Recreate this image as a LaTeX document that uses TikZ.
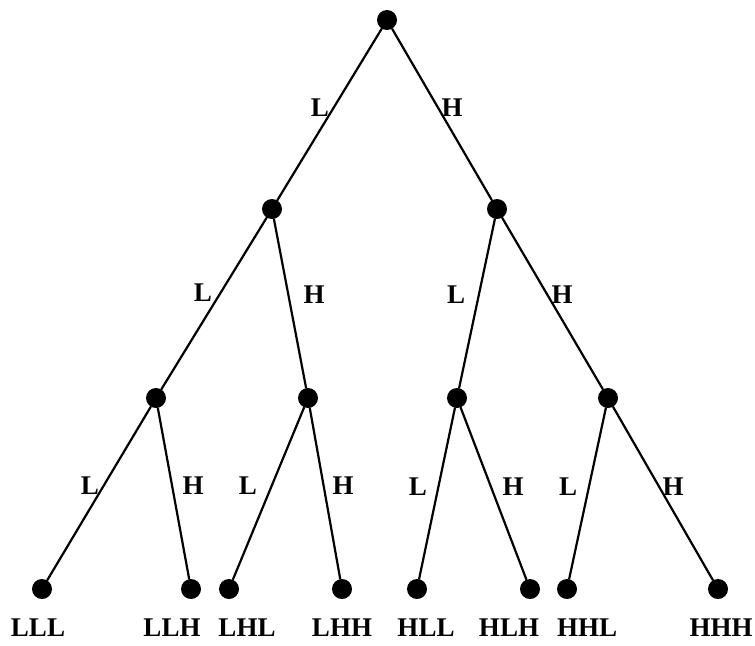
\documentclass[tikz,border=0pt]{standalone}
\usepackage{fontspec}
\setmainfont{Liberation Serif}
\usetikzlibrary{positioning}

\tikzset{
  dot/.style={circle, fill=black, inner sep=0pt, minimum size=10pt},
  lbl/.style={font=\fontsize{13.5}{15}\selectfont\bfseries, inner sep=0pt},
  branch/.style={line width=1.1pt}
}

\begin{document}
\begin{tikzpicture}[x=0.5pt, y=-0.5pt, line cap=round, line join=round]
  \useasboundingbox (0,0) rectangle (755,645);

  %--------------------------
  % Nodes of the tree
  %--------------------------
  \node[dot] (r) at (387,20) {};

  \node[dot] (l) at (272,209) {};
  \node[dot] (h) at (497,209) {};

  \node[dot] (ll) at (156,398) {};
  \node[dot] (lh) at (308,398) {};
  \node[dot] (hl) at (457,398) {};
  \node[dot] (hh) at (608,398) {};

  \node[dot] (lll) at (42,589) {};
  \node[dot] (llh) at (191,589) {};
  \node[dot] (lhl) at (229,589) {};
  \node[dot] (lhh) at (342,589) {};
  \node[dot] (hll) at (417,589) {};
  \node[dot] (hlh) at (530,589) {};
  \node[dot] (hhl) at (567,589) {};
  \node[dot] (hhh) at (718,589) {};

  %--------------------------
  % Branches
  %--------------------------
  \draw[branch] (r) -- (l);
  \draw[branch] (r) -- (h);

  \draw[branch] (l) -- (ll);
  \draw[branch] (l) -- (lh);
  \draw[branch] (h) -- (hl);
  \draw[branch] (h) -- (hh);

  \draw[branch] (ll) -- (lll);
  \draw[branch] (ll) -- (llh);
  \draw[branch] (lh) -- (lhl);
  \draw[branch] (lh) -- (lhh);
  \draw[branch] (hl) -- (hll);
  \draw[branch] (hl) -- (hlh);
  \draw[branch] (hh) -- (hhl);
  \draw[branch] (hh) -- (hhh);

  %--------------------------
  % Branch labels
  %--------------------------
  \node[lbl] (e-l) at (320,108) {L};
  \node[lbl] (e-h) at (452,108) {H};

  \node[lbl] (e-ll) at (203,293) {L};
  \node[lbl] (e-lh) at (314,295) {H};
  \node[lbl] (e-hl) at (456,295) {L};
  \node[lbl] (e-hh) at (562,295) {H};

  \node[lbl] (e-lll) at (90,486) {L};
  \node[lbl] (e-llh) at (193,486) {H};
  \node[lbl] (e-lhl) at (248,486) {L};
  \node[lbl] (e-lhh) at (343,486) {H};
  \node[lbl] (e-hll) at (418,487) {L};
  \node[lbl] (e-hlh) at (513,487) {H};
  \node[lbl] (e-hhl) at (568,487) {L};
  \node[lbl] (e-hhh) at (673,487) {H};

  %--------------------------
  % Outcomes
  %--------------------------
  \node[lbl] (t-lll) at (38,628) {LLL};
  \node[lbl] (t-llh) at (172,628) {LLH};
  \node[lbl] (t-lhl) at (247,628) {LHL};
  \node[lbl] (t-lhh) at (342,628) {LHH};
  \node[lbl] (t-hll) at (426,628) {HLL};
  \node[lbl] (t-hlh) at (509,628) {HLH};
  \node[lbl] (t-hhl) at (587,628) {HHL};
  \node[lbl] (t-hhh) at (721,628) {HHH};

\end{tikzpicture}
\end{document}
